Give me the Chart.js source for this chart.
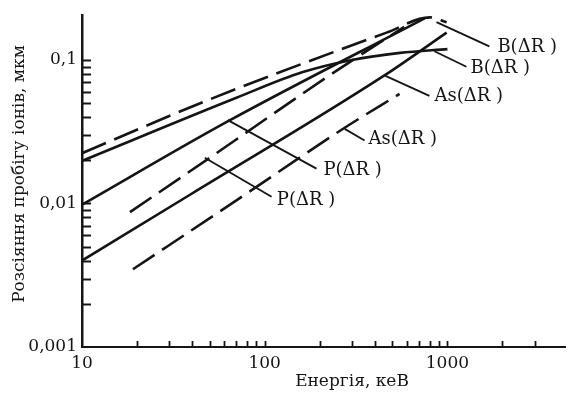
<!DOCTYPE html>
<html>
<head>
<meta charset="utf-8">
<script src="https://cdn.jsdelivr.net/npm/chart.js@4"></script>
<style>
  html, body { margin: 0; padding: 0; background: #fff; }
  canvas { display: block; }
</style>
</head>
<body>
<canvas id="c" width="571" height="394"></canvas>
<script>
// energies (keV) and straggle values (um)
const B_SOLID_E = [10, 70, 160, 300, 550, 1000];
const B_SOLID_V = [0.0198, 0.0545, 0.082, 0.1, 0.112, 0.119];
const B_DASH_E = [10, 48, 464, 800, 990];
const B_DASH_V = [0.0224, 0.052, 0.155, 0.198, 0.183];
const P_SOLID_E = [10, 62, 750];
const P_SOLID_V = [0.0098, 0.037, 0.195];
const P_DASH_E = [18.3, 50, 226, 580];
const P_DASH_V = [0.0087, 0.0208, 0.078, 0.17];
const AS_SOLID_E = [10, 39, 452, 990];
const AS_SOLID_V = [0.004, 0.0115, 0.078, 0.155];
const AS_DASH_E = [19, 71, 274, 547];
const AS_DASH_V = [0.00348, 0.01064, 0.0337, 0.058];

// leader lines: [E1, v1, E2, v2] and label anchors
const LEADERS = [
  [871, 0.1834, 1696, 0.1243],
  [849, 0.115, 1270, 0.0897],
  [452, 0.078, 797, 0.0562],
  [274, 0.0331, 352, 0.0275],
  [62.8, 0.0381, 192, 0.0175],
  [47, 0.0208, 109, 0.01115],
];
const LABEL_TEXT = ["B(\u0394R )", "B(\u0394R )", "As(\u0394R )", "As(\u0394R )", "P(\u0394R )", "P(\u0394R )"];
const LABEL_E = [1853, 1319, 838, 365, 207, 115];
const LABEL_V = [0.1224, 0.0869, 0.0562, 0.0279, 0.017, 0.01048];

// axes
const X_TICKS = [10, 20, 30, 40, 50, 60, 70, 80, 90, 100, 200, 300, 400, 500, 600, 700, 800, 900, 1000, 2000, 3000];
const X_LABELS = { 10: "10", 100: "100", 1000: "1000" };
const Y_TICKS = [0.001, 0.002, 0.003, 0.004, 0.005, 0.006, 0.007, 0.008, 0.009,
  0.01, 0.02, 0.03, 0.04, 0.05, 0.06, 0.07, 0.08, 0.09, 0.1];
const Y_LABELS = { 0.001: "0,001", 0.01: "0,01", 0.1: "0,1" };
const X_TITLE = "Енергія, кеВ";
const Y_TITLE = "Розсіяння пробігу іонів, мкм";

const INK = "#151515";
const FONT = "DejaVu Serif";
const pts = (E, V) => E.map((e, i) => ({ x: e, y: V[i] }));

const curve = (E, V, dashed) => ({
  data: pts(E, V),
  borderColor: INK,
  borderWidth: 2.6,
  borderDash: dashed ? [26, 9] : [],
  pointRadius: 0,
  showLine: true,
  cubicInterpolationMode: "monotone",
});

const datasets = [
  curve(B_SOLID_E, B_SOLID_V, false),
  curve(B_DASH_E, B_DASH_V, true),
  curve(P_SOLID_E, P_SOLID_V, false),
  curve(P_DASH_E, P_DASH_V, true),
  curve(AS_SOLID_E, AS_SOLID_V, false),
  curve(AS_DASH_E, AS_DASH_V, true),
  ...LEADERS.map((l) => ({
    data: [{ x: l[0], y: l[1] }, { x: l[2], y: l[3] }],
    borderColor: INK,
    borderWidth: 1.8,
    pointRadius: 0,
    showLine: true,
    tension: 0,
  })),
];

const decor = {
  id: "decor",
  afterDraw(chart) {
    const { ctx, chartArea: a, scales: { x, y } } = chart;
    ctx.save();
    ctx.strokeStyle = INK;
    ctx.lineWidth = 1.8;
    ctx.beginPath();
    Y_TICKS.forEach((t) => {
      if (t === 0.001) return;
      const py = Math.round(y.getPixelForValue(t)) + 0.5;
      ctx.moveTo(a.left, py);
      ctx.lineTo(a.left + 9, py);
    });
    X_TICKS.forEach((t) => {
      if (t === 10) return;
      const px = Math.round(x.getPixelForValue(t)) + 0.5;
      ctx.moveTo(px, a.bottom);
      ctx.lineTo(px, a.bottom - 6);
    });
    ctx.stroke();

    ctx.fillStyle = INK;
    ctx.font = `18px "${FONT}"`;
    ctx.textBaseline = "middle";
    ctx.textAlign = "left";
    LABEL_TEXT.forEach((txt, i) => {
      ctx.fillText(txt, x.getPixelForValue(LABEL_E[i]) + 1, y.getPixelForValue(LABEL_V[i]));
    });

    ctx.font = `17px "${FONT}"`;
    ctx.textAlign = "center";
    ctx.fillText(X_TITLE, 352, 382);
    ctx.translate(20, 174);
    ctx.rotate(-Math.PI / 2);
    ctx.fillText(Y_TITLE, 0, 0);
    ctx.restore();
  },
};

new Chart(document.getElementById("c"), {
  type: "scatter",
  data: { datasets },
  plugins: [decor],
  options: {
    responsive: false,
    animation: false,
    layout: { padding: { top: 5, right: 6, left: 0, bottom: 0 } },
    plugins: { legend: { display: false }, tooltip: { enabled: false } },
    scales: {
      x: {
        type: "logarithmic",
        min: 10,
        max: 4400,
        afterBuildTicks: (s) => { s.ticks = X_TICKS.map((value) => ({ value })); },
        afterFit: (s) => { s.height = 47; },
        grid: { display: false, drawTicks: false },
        border: { display: true, color: INK, width: 2 },
        ticks: {
          autoSkip: false, maxRotation: 0, minRotation: 0, padding: 6,
          color: INK, font: { family: FONT, size: 17 },
          callback: (v) => X_LABELS[v] || "",
        },
      },
      y: {
        type: "logarithmic",
        min: 0.001,
        max: 0.205,
        afterBuildTicks: (s) => { s.ticks = Y_TICKS.map((value) => ({ value })); },
        afterFit: (s) => { s.width = 82; },
        grid: { display: false, drawTicks: false },
        border: { display: true, color: INK, width: 2.5 },
        ticks: {
          autoSkip: false, padding: 5,
          color: INK, font: { family: FONT, size: 17 },
          callback: (v) => Y_LABELS[v] || "",
        },
      },
    },
  },
});
</script>
</body>
</html>
